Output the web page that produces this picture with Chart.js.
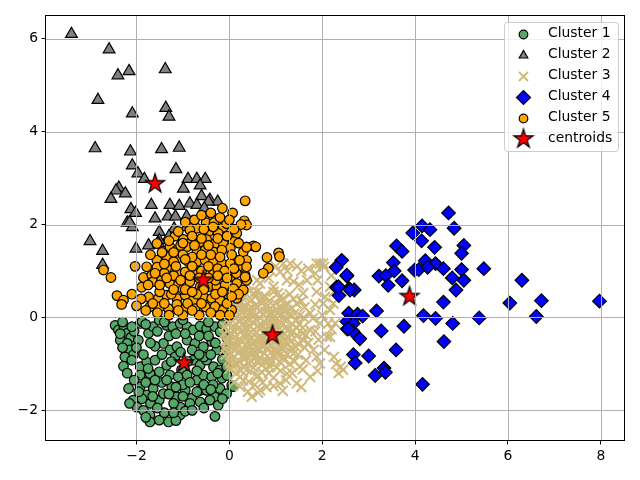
<!DOCTYPE html>
<html><head><meta charset="utf-8">
<script src="https://cdn.jsdelivr.net/npm/chart.js@4/dist/chart.umd.min.js"></script>
<style>html,body{margin:0;padding:0;background:#fff}#wrap{width:640px;height:480px}</style>
</head><body><div id="wrap"><canvas id="c" width="640" height="480"></canvas></div>
<script>
const xTicks = [-2, 0, 2, 4, 6, 8];
const yTicks = [-2, 0, 2, 4, 6];
const seriesNames = ['Cluster 1', 'Cluster 2', 'Cluster 3', 'Cluster 4', 'Cluster 5', 'centroids'];

const cluster1 = [
[-2.46,-0.17],[-2.39,-0.27],[-2.27,-0.20],[-2.20,-0.34],[-2.12,-0.43],[-1.92,-0.13],[-1.88,-0.09],[-1.74,-0.34],[-1.64,-0.20],[-1.51,-0.06],[-1.35,-0.17],[-1.22,-0.20],[-1.06,-0.13],[-0.91,-0.20],[-0.78,-0.27],[-0.63,-0.19],[-0.49,-0.24],[-0.31,-0.20],[-0.20,-0.31],
[-2.35,-0.49],[-2.20,-0.56],[-2.15,-0.70],[-2.07,-0.81],[-2.25,-0.85],[-1.96,-0.49],[-1.42,-0.56],[-1.28,-0.70],[-1.13,-0.63],[-0.91,-0.49],[-0.74,-0.56],[-0.56,-0.63],[-0.38,-0.52],[-0.27,-0.70],[-0.09,-0.70],
[-2.10,-0.92],[-1.92,-1.06],[-1.78,-0.96],[-1.60,-0.92],[-1.51,-1.17],[-1.35,-1.03],[-1.17,-0.85],[-1.03,-1.13],[-0.78,-0.92],[-0.63,-1.03],[-0.49,-0.92],[-0.34,-1.06],[-0.20,-1.13],[-0.06,-1.06],
[-1.92,-1.24],[-1.71,-1.21],[-1.28,-1.24],[-1.10,-1.28],[-0.91,-1.24],[-0.70,-1.35],[-0.56,-1.24],[-0.38,-1.28],[-0.16,-1.31],[0.05,-1.46],[0.09,-1.49],
[-2.17,-1.53],[-2.07,-1.78],[-1.92,-1.49],[-1.78,-1.67],[-1.64,-1.53],[-1.51,-1.78],[-1.42,-1.64],[-1.24,-1.49],[-1.13,-1.71],[-0.95,-1.57],[-0.81,-1.74],[-0.63,-1.57],[-0.49,-1.57],[-0.31,-1.71],[-0.20,-1.53],[-0.06,-1.64],
[-1.99,-1.93],[-1.85,-2.00],[-1.71,-2.10],[-1.51,-2.21],[-1.31,-2.25],[-1.06,-2.10],[-1.06,-1.93],[-0.85,-1.85],[-0.63,-1.82],[-0.42,-1.78],[-0.24,-1.89],[-0.31,-2.13],
[-1.71,-2.25],[-1.15,-2.22],[-0.95,-2.02],[-1.60,-0.62],[-0.05,-0.45],[-1.30,-0.40],[-0.80,-0.70],[-1.45,-1.40],[-1.88,-1.75],[-2.28,-1.05],[-2.05,-0.30],[-0.55,-0.85],[-0.35,-1.45],[-1.00,-1.45],[-0.70,-1.15],[-1.20,-1.85],[-1.70,-1.85],
[-2.30,-0.10],[-2.10,-0.20],[-1.80,-0.15],[-1.55,-0.30],[-1.40,-0.10],[-1.15,-0.35],[-0.95,-0.35],[-0.65,-0.40],[-0.45,-0.40],[-0.15,-0.15],[-2.30,-0.65],[-2.00,-0.65],[-1.85,-0.80],[-1.70,-0.55],[-1.45,-0.80],[-1.25,-0.95],[-1.05,-0.75],[-0.90,-0.95],[-0.65,-0.80],[-0.40,-0.80],[-0.15,-0.90],[-2.20,-1.20],[-2.05,-1.35],[-1.80,-1.40],[-1.60,-1.35],[-1.35,-1.35],[-1.15,-1.50],[-0.85,-1.40],[-0.55,-1.45],[-0.25,-1.20],[-0.05,-1.25],[-1.95,-1.60],[-1.65,-1.70],[-1.30,-1.65],[-1.00,-1.70],[-0.70,-1.60],[-0.40,-1.55],[-0.15,-1.75],[-1.80,-2.15],[-1.40,-2.05],[-1.20,-2.05],[-0.80,-2.00],[-0.55,-1.95],[-1.55,-1.95],[-2.15,-1.85],[-0.45,-0.10],[-1.00,-0.05],[-1.75,-1.10],[-2.35,-0.35],[-0.30,-0.55]
];

const cluster2 = [
[-3.40,6.10],[-2.59,5.77],[-2.40,5.21],[-2.16,5.30],[-1.38,5.34],[-2.83,4.68],[-2.09,4.39],[-1.37,4.51],[-1.30,4.32],[-2.89,3.64],[-2.13,3.57],[-1.46,3.62],[-1.08,3.65],[-2.09,3.27],[-1.15,3.19],[-1.97,3.10],[-1.83,2.98],[-0.89,2.98],[-0.70,2.98],[-0.52,2.98],[-0.63,2.84],[-0.99,2.77],[-2.38,2.79],[-2.44,2.73],[-2.24,2.67],[-2.55,2.55],[-0.60,2.61],[-0.42,2.53],[-0.25,2.49],[-0.45,2.49],[-1.68,2.42],[-1.28,2.42],[-1.08,2.40],[-0.85,2.45],[-0.70,2.42],[-0.54,2.35],[-2.12,2.33],[-2.02,2.25],[-1.60,2.13],[-1.32,2.17],[-1.16,2.17],[-0.92,2.17],[-2.20,2.04],[-2.09,1.94],[-1.51,1.84],[-1.19,1.91],[-0.93,1.94],[-1.51,1.66],[-3.00,1.64],[-2.73,1.43],[-2.01,1.48],[-1.74,1.55],[-1.52,1.59],[-2.73,1.13],[-2.15,2.05],[-1.30,1.75],[-0.80,2.05]
];

const cluster3 = [
[1.31,1.16],[1.46,1.10],[1.95,1.16],[2.04,1.09],[1.85,0.95],[1.67,0.80],[1.09,0.98],[0.88,1.02],[0.66,0.73],[0.52,0.52],[1.38,0.77],[1.59,0.52],[1.88,0.55],[2.02,0.30],[2.24,0.30],[2.28,-0.13],[2.10,-0.42],[2.45,-1.13],[1.95,-0.99],[1.52,-1.06],[1.74,-1.28],[1.09,-1.42],[1.45,-1.42],[0.48,-1.71],[0.66,-1.57],[0.23,-1.28],[0.88,-1.06],[1.16,-0.85],[0.37,-0.85],[0.09,-0.27],[0.23,0.30],[0.45,0.09],[0.88,0.09],[1.24,0.16],[1.45,-0.06],[1.74,0.09],[1.31,-0.34],[1.59,-0.49],[0.66,-0.49],[0.52,-0.27],[1.02,-0.13],[0.73,0.44],[1.09,0.44],[1.45,0.30],[0.23,-0.49],[0.37,-1.13],[0.59,-1.28],[1.24,-1.21],[0.95,-0.70],[1.38,-0.78],[0.52,-0.70],[1.81,-0.70],[0.09,-0.70],[0.16,-0.99],[0.73,-0.92],[1.24,0.80],[0.95,0.66],[0.30,0.59],[0.09,0.16],[-0.06,-0.06],[-0.06,-0.49],[0.02,-0.99],[1.74,-0.27],[1.95,-0.13],[1.09,-0.56],[0.81,-0.27],[1.16,0.16],[0.59,-0.06],[0.30,-0.13],[0.30,0.16],[2.17,0.16],[2.17,0.66],[2.02,1.16],[2.06,0.44],[2.13,-0.13],[2.17,-0.42],[2.30,-1.00],[1.16,1.16],[1.88,1.16],[0.23,-1.49],[2.40,-1.06],
[0.05,0.45],[0.15,0.35],[0.25,0.20],[0.40,0.30],[0.55,0.25],[0.70,0.30],[0.85,0.35],[1.00,0.30],[1.15,0.40],[0.60,0.55],[0.95,0.55],[1.30,0.50],
[0.00,0.05],[0.12,-0.02],[0.35,0.02],[0.50,0.10],[0.65,0.00],[0.78,0.12],[0.95,-0.02],[1.10,0.05],[1.25,-0.05],[1.40,0.08],[1.60,0.00],
[-0.10,-0.20],[0.05,-0.35],[0.18,-0.25],[0.32,-0.38],[0.45,-0.20],[0.58,-0.32],[0.70,-0.18],[0.85,-0.42],[1.00,-0.28],[1.15,-0.40],[1.22,-0.20],[1.38,-0.30],[1.50,-0.15],[1.65,-0.38],
[-0.05,-0.55],[0.10,-0.62],[0.25,-0.50],[0.40,-0.65],[0.52,-0.55],[0.68,-0.60],[0.80,-0.50],[0.93,-0.62],[1.08,-0.55],[1.20,-0.62],[1.32,-0.52],[1.50,-0.58],
[-0.08,-0.80],[0.08,-0.88],[0.20,-0.75],[0.33,-0.90],[0.47,-0.82],[0.60,-0.95],[0.75,-0.78],[0.88,-0.88],[1.02,-0.80],[1.18,-0.92],[1.30,-1.00],
[0.00,-1.10],[0.15,-1.20],[0.30,-1.05],[0.45,-1.15],[0.62,-1.25],[0.78,-1.10],[0.95,-1.30],[1.10,-1.15],
[0.30,-1.35],[0.55,-1.45],[0.80,-1.50],[0.40,-1.60],
[0.10,0.42],[0.32,0.46],[0.48,0.38],[0.78,0.45],[1.05,0.52],[1.38,0.40],[1.55,0.35],
[-0.05,0.25],[0.18,0.20],[0.42,0.18],[0.60,0.22],[0.82,0.24],[1.02,0.18],[1.20,0.26],[1.35,0.20],[1.62,0.22],[1.85,0.28],
[-0.08,0.08],[0.22,0.06],[0.40,-0.04],[0.55,0.04],[0.72,0.06],[0.88,-0.06],[1.05,0.12],[1.30,0.06],[1.52,0.04],[1.80,-0.02],[2.00,0.05],
[0.02,-0.12],[0.15,-0.15],[0.38,-0.12],[0.62,-0.18],[0.75,-0.08],[0.92,-0.16],[1.12,-0.12],[1.35,-0.14],[1.58,-0.22],[1.85,-0.30],
[-0.12,-0.35],[0.10,-0.30],[0.28,-0.28],[0.42,-0.36],[0.65,-0.40],[0.90,-0.30],[1.05,-0.45],[1.25,-0.28],[1.45,-0.40],[1.70,-0.55],[1.92,-0.48],
[-0.02,-0.45],[0.15,-0.52],[0.35,-0.58],[0.48,-0.45],[0.72,-0.48],[0.98,-0.50],[1.12,-0.66],[1.28,-0.44],[1.42,-0.62],[1.62,-0.65],[1.88,-0.85],
[-0.10,-0.68],[0.05,-0.78],[0.28,-0.70],[0.42,-0.76],[0.62,-0.70],[0.82,-0.66],[1.00,-0.72],[1.25,-0.80],[1.48,-0.80],[1.65,-0.92],
[-0.02,-0.92],[0.22,-0.95],[0.40,-0.98],[0.55,-0.84],[0.70,-1.02],[0.90,-0.98],[1.08,-0.95],[1.40,-0.95],[1.58,-1.12],
[0.08,-1.05],[0.25,-1.15],[0.52,-1.08],[0.70,-1.18],[0.85,-1.20],[1.02,-1.08],[1.22,-1.35],[1.35,-1.20],[1.90,-1.15],
[0.10,-1.40],[0.42,-1.38],[0.72,-1.40],[0.95,-1.48],[1.15,-1.58],[1.55,-1.50],[0.62,-1.62],
[2.20,0.90],[2.25,0.55],[2.20,-0.25],[2.05,-0.70],[2.25,-0.85],[2.35,-1.20],
[0.60,0.80],[0.85,0.85],[1.00,1.10],[1.25,1.00],[1.55,1.00],[1.70,1.05],[0.40,0.70],[1.50,0.70],[1.90,0.80],
[0.05,0.12],[0.27,0.10],[0.47,0.22],[0.67,0.14],[0.92,0.08],[1.15,-0.02],[0.20,-0.08],[0.50,-0.10],[0.83,-0.18],[1.08,-0.24],[0.12,-0.42],[0.36,-0.46],[0.60,-0.44],[0.78,-0.34],[1.02,-0.38],[1.22,-0.52],[0.18,-0.62],[0.46,-0.62],[0.75,-0.62],[0.96,-0.84],[1.12,-0.78],[0.30,-0.80],[0.58,-0.80],[0.82,-0.96],[0.14,-1.00],[0.48,-0.95],[0.65,-0.88],[-0.04,-0.30],[0.06,-0.58],[0.38,-0.22],[0.66,-0.26],[0.88,-0.58],[1.32,-0.66],[1.45,-0.22],[1.58,-0.35],[0.25,0.35],[0.70,0.38],[1.10,0.22],[0.55,0.45],[0.88,0.20]
];

const cluster4 = [
[4.72,2.25],[4.15,1.97],[4.32,1.89],[4.84,1.92],[3.95,1.82],[4.14,1.65],[3.60,1.54],[3.72,1.42],[4.42,1.51],[5.05,1.55],[5.00,1.38],[2.42,1.23],[2.30,1.08],[2.53,0.89],[3.53,1.18],[3.55,1.00],[3.22,0.89],[3.37,0.90],[3.42,0.69],[3.72,0.79],[4.22,1.22],[3.99,1.02],[4.08,1.03],[4.44,1.16],[4.61,1.05],[4.27,1.08],[5.00,1.03],[4.80,0.85],[5.05,0.80],[4.88,0.59],[5.48,1.05],[6.30,0.80],[6.04,0.31],[6.72,0.36],[7.97,0.35],[6.61,0.02],[5.38,-0.01],[4.61,0.33],[4.18,0.04],[4.44,-0.02],[4.81,-0.13],[4.62,-0.52],[4.16,-1.44],[3.76,-0.19],[3.27,-0.29],[3.17,0.14],[3.59,-0.70],[3.00,-0.83],[2.67,-0.80],[2.71,-0.98],[3.14,-1.25],[3.33,-1.09],[3.36,-1.18],[2.81,-0.46],[2.57,0.09],[2.76,0.07],[2.87,0.03],[2.53,-0.09],[2.67,-0.13],[2.54,-0.25],[2.66,-0.30],[2.31,0.65],[2.36,0.47],[2.58,0.62],[2.69,0.59],[2.53,0.91],[2.35,0.66],[2.60,0.59],[2.56,-0.24]
];

const cluster5 = [
[0.34,2.51],[0.07,2.25],[0.32,2.08],[0.37,1.99],[-0.50,2.04],[-0.33,2.04],[-0.13,1.94],[-0.24,1.81],[-0.45,1.84],[-0.70,1.92],[-0.85,1.88],[-0.06,2.02],[0.16,1.81],[0.09,1.63],[0.37,1.52],[0.30,1.41],
[-1.17,1.75],[-0.99,1.68],[-0.85,1.59],[-0.63,1.63],[-0.49,1.68],[-0.31,1.59],[-0.13,1.59],[0.02,1.49],[0.19,1.23],[0.37,1.23],
[-1.56,1.59],[-1.28,1.52],[-1.13,1.45],[-0.92,1.52],[-0.70,1.45],[-0.52,1.45],[-0.34,1.41],[-0.16,1.45],
[-1.56,1.23],[-1.35,1.30],[-1.13,1.27],[-0.88,1.20],[-0.70,1.20],[-0.52,1.23],[-0.34,1.20],[-0.16,1.16],[0.02,1.16],[0.19,1.09],[0.34,0.91],[0.37,0.80],
[-1.78,1.09],[-1.56,1.08],[-1.35,1.06],[-1.13,0.95],[-0.95,0.98],[-0.74,1.02],[-0.34,0.98],[-0.16,0.91],[0.02,0.87],[0.16,0.73],
[-2.71,1.02],[-2.55,0.86],[-2.03,1.10],[-1.85,0.86],[-1.89,0.65],[-1.67,0.91],[-1.64,0.77],[-1.46,0.80],[-1.28,0.73],[-1.10,0.70],[-0.85,0.77],[-0.63,0.66],[-0.45,0.66],[-0.27,0.66],[-0.09,0.70],[0.09,0.62],[0.30,0.59],
[-2.42,0.47],[-2.28,0.37],[-2.10,0.50],[-1.74,0.44],[-1.53,0.41],[-1.35,0.48],[-1.13,0.41],[-0.95,0.48],[-0.78,0.37],[-0.56,0.44],[-0.38,0.41],[-0.20,0.37],[-0.02,0.48],[0.16,0.41],
[-1.71,0.23],[-1.49,0.23],[-1.31,0.19],[-1.13,0.28],[-0.95,0.19],[-0.74,0.19],[-0.52,0.23],[-0.31,0.23],[-0.13,0.16],[0.05,0.16],[-2.32,0.28],
[0.52,1.54],[0.57,1.52],[0.81,1.29],[0.84,1.06],[0.73,0.95],[1.06,1.39],[1.08,1.31],[0.37,1.51],[0.37,1.09],[0.34,0.87],[0.22,1.23],
[-1.20,1.20],[-1.00,1.35],[-0.80,1.30],[-0.60,1.00],[-0.45,1.10],[-0.25,1.05],[-1.40,0.95],[-0.55,0.60],[-0.70,0.50],[-1.00,0.60],[-1.25,0.50],[-0.30,0.80],[-0.10,1.00],[-0.05,0.30],[-1.50,0.55],[-1.65,0.30],[-0.90,0.30],[-0.40,0.10],[-0.65,0.05],[-1.00,0.05],[-1.30,0.05],[-1.55,0.10],[0.15,0.95],[0.20,0.50],[-0.80,1.10],[-1.05,1.55],[-0.60,1.70],
[-1.45,1.40],[-1.30,1.65],[-1.10,1.85],[-0.95,2.05],[-0.75,2.10],[-0.60,2.20],[-0.40,2.25],[-0.20,2.15],[0.00,2.10],[-0.15,2.35],[-0.35,1.95],[-0.55,1.90],[-0.80,1.75],[-1.00,1.60],[-1.20,1.40],[-1.40,1.15],[-1.60,0.95],[-1.75,0.70],[-1.90,0.40],[-2.00,0.25],[-1.80,0.15],[-1.20,0.90],[-1.05,0.80],[-0.85,0.90],[-0.65,0.85],[-0.45,0.85],[-0.25,0.90],[-0.05,0.85],[0.10,1.05],[0.05,1.35],[-0.20,1.30],[-0.40,1.35],[-0.60,1.35],[-0.75,1.55],[-0.95,1.25],[-1.15,1.10],[-1.35,0.85],[-1.50,0.70],[-1.20,0.60],[-0.95,0.60],[-0.80,0.55],[-0.30,0.50],[-0.15,0.55],[0.05,0.45],[-0.60,0.30],[-0.80,0.15],[-1.10,0.15],[-1.40,0.30],[-0.20,0.05],[0.00,0.05],[-0.45,1.55],[-0.25,1.70],[-0.05,1.75],[0.20,1.60],[0.25,2.00],[0.10,1.90],[-1.70,1.35]
];

const centroids = [[-0.975,-0.96],[-1.60,2.90],[0.93,-0.36],[3.88,0.47],[-0.56,0.82]];

const COLORS = ['#55a868', '#808080', '#cfb87a', '#0000ff', '#ffa500', '#ff0000'];
const FONT = "'DejaVu Sans', sans-serif";

function makeStar(R) {
  const s = Math.ceil(R * 2 + 4);
  const c = document.createElement('canvas');
  c.width = s; c.height = s;
  const g = c.getContext('2d');
  const cx = s / 2, cy = s / 2 + R * 0.1, r = R * 0.382;
  g.beginPath();
  for (let i = 0; i < 10; i++) {
    const a = -Math.PI / 2 + i * Math.PI / 5;
    const rr = i % 2 ? r : R;
    g.lineTo(cx + rr * Math.cos(a), cy + rr * Math.sin(a));
  }
  g.closePath();
  g.fillStyle = '#ff0000'; g.fill();
  g.lineWidth = 1.2; g.strokeStyle = '#000'; g.stroke();
  return c;
}
const starImg = makeStar(10);

const toXY = arr => arr.map(([x, y]) => ({x, y}));
const fmt = v => v < 0 ? '\u2212' + Math.abs(v) : String(v);

const overlay = {
  id: 'overlay',
  afterDatasetsDraw(chart) {
    const {ctx, chartArea: a, scales: {x, y}} = chart;
    ctx.save();
    ctx.strokeStyle = '#b0b0b0';
    ctx.lineWidth = 1;
    ctx.beginPath();
    xTicks.forEach(v => { const p = Math.round(x.getPixelForValue(v)) + 0.5; ctx.moveTo(p, a.top); ctx.lineTo(p, a.bottom); });
    yTicks.forEach(v => { const p = Math.round(y.getPixelForValue(v)) + 0.5; ctx.moveTo(a.left, p); ctx.lineTo(a.right, p); });
    ctx.stroke();
    ctx.strokeStyle = '#000';
    ctx.lineWidth = 1;
    ctx.strokeRect(a.left + 0.5, a.top + 0.5, a.right - a.left - 1, a.bottom - a.top - 1);
    ctx.restore();
  },
  afterDraw(chart) {
    const ctx = chart.ctx;
    ctx.save();
    const bx = 504.5, by = 22.5, bw = 114, bh = 129, rr = 3;
    ctx.beginPath();
    ctx.moveTo(bx + rr, by); ctx.lineTo(bx + bw - rr, by); ctx.quadraticCurveTo(bx + bw, by, bx + bw, by + rr);
    ctx.lineTo(bx + bw, by + bh - rr); ctx.quadraticCurveTo(bx + bw, by + bh, bx + bw - rr, by + bh);
    ctx.lineTo(bx + rr, by + bh); ctx.quadraticCurveTo(bx, by + bh, bx, by + bh - rr);
    ctx.lineTo(bx, by + rr); ctx.quadraticCurveTo(bx, by, bx + rr, by);
    ctx.closePath();
    ctx.fillStyle = 'rgba(255,255,255,0.8)'; ctx.fill();
    ctx.strokeStyle = '#cccccc'; ctx.lineWidth = 1; ctx.stroke();
    const rows = [33.5, 54.5, 75.5, 96.5, 117.5, 138];
    const mx = 523.5;
    rows.forEach((ry, i) => {
      ctx.beginPath();
      ctx.lineWidth = 1.2; ctx.strokeStyle = '#000'; ctx.fillStyle = COLORS[i];
      if (i === 0 || i === 4) {
        ctx.arc(mx, ry + 1, 4.3, 0, Math.PI * 2); ctx.fill(); ctx.stroke();
      } else if (i === 1) {
        const r = 5; ctx.moveTo(mx, ry + 1 - r); ctx.lineTo(mx + r * 0.866, ry + 1 + r / 2); ctx.lineTo(mx - r * 0.866, ry + 1 + r / 2); ctx.closePath(); ctx.fill(); ctx.stroke();
      } else if (i === 2) {
        const d = 4.5; ctx.strokeStyle = COLORS[2]; ctx.lineWidth = 1.8;
        ctx.moveTo(mx - d, ry + 1 - d); ctx.lineTo(mx + d, ry + 1 + d); ctx.moveTo(mx + d, ry + 1 - d); ctx.lineTo(mx - d, ry + 1 + d); ctx.stroke();
      } else if (i === 3) {
        const d = 7; ctx.moveTo(mx - d, ry + 1); ctx.lineTo(mx, ry + 1 - d); ctx.lineTo(mx + d, ry + 1); ctx.lineTo(mx, ry + 1 + d); ctx.closePath(); ctx.fill(); ctx.stroke();
      } else {
        ctx.drawImage(starImg, mx - starImg.width / 2, ry - starImg.height / 2);
      }
      ctx.fillStyle = '#000';
      ctx.font = '13.9px ' + FONT;
      ctx.textBaseline = 'middle';
      ctx.textAlign = 'left';
      ctx.fillText(seriesNames[i], 548, ry);
    });
    ctx.restore();
  }
};

Chart.defaults.color = '#000';
Chart.defaults.font.family = FONT;

const ds = (label, data, extra, order) => Object.assign({label, data: toXY(data), order, clip: false}, extra);

new Chart(document.getElementById('c'), {
  type: 'scatter',
  data: {
    datasets: [
      ds(seriesNames[0], cluster1, {pointStyle: 'circle', pointRadius: 4.8, backgroundColor: COLORS[0], borderColor: '#000', borderWidth: 1.2}, 6),
      ds(seriesNames[1], cluster2, {pointStyle: 'triangle', pointRadius: 6.8, backgroundColor: COLORS[1], borderColor: '#000', borderWidth: 1.2}, 5),
      ds(seriesNames[2], cluster3, {pointStyle: 'crossRot', pointRadius: 7, backgroundColor: COLORS[2], borderColor: COLORS[2], borderWidth: 2}, 4),
      ds(seriesNames[3], cluster4, {pointStyle: 'rectRot', pointRadius: 6.8, backgroundColor: COLORS[3], borderColor: '#000', borderWidth: 1.2}, 3),
      ds(seriesNames[4], cluster5, {pointStyle: 'circle', pointRadius: 4.8, backgroundColor: COLORS[4], borderColor: '#000', borderWidth: 1.2}, 2),
      ds(seriesNames[5], centroids, {pointStyle: starImg, pointRadius: 10, backgroundColor: COLORS[5], borderColor: '#000'}, 1)
    ]
  },
  options: {
    responsive: false,
    animation: false,
    devicePixelRatio: 1,
    layout: {padding: {top: 15, right: 15, left: 0, bottom: 0}},
    plugins: {legend: {display: false}, tooltip: {enabled: false}},
    scales: {
      x: {
        type: 'linear', min: -3.97, max: 8.52,
        afterBuildTicks: s => { s.ticks = xTicks.map(v => ({value: v})); },
        afterFit: s => { s.height = 39; },
        grid: {drawOnChartArea: false, drawTicks: true, tickLength: 3.5, tickColor: '#000', lineWidth: 1},
        border: {display: false},
        ticks: {padding: 3.5, maxRotation: 0, autoSkip: false, font: {size: 13.9, family: FONT}, color: '#000', callback: v => fmt(v)}
      },
      y: {
        type: 'linear', min: -2.66, max: 6.51,
        afterBuildTicks: s => { s.ticks = yTicks.map(v => ({value: v})); },
        afterFit: s => { s.width = 45; },
        grid: {drawOnChartArea: false, drawTicks: true, tickLength: 3.5, tickColor: '#000', lineWidth: 1},
        border: {display: false},
        ticks: {padding: 3.5, autoSkip: false, font: {size: 13.9, family: FONT}, color: '#000', callback: v => fmt(v)}
      }
    }
  },
  plugins: [overlay]
});
</script>
</body></html>
